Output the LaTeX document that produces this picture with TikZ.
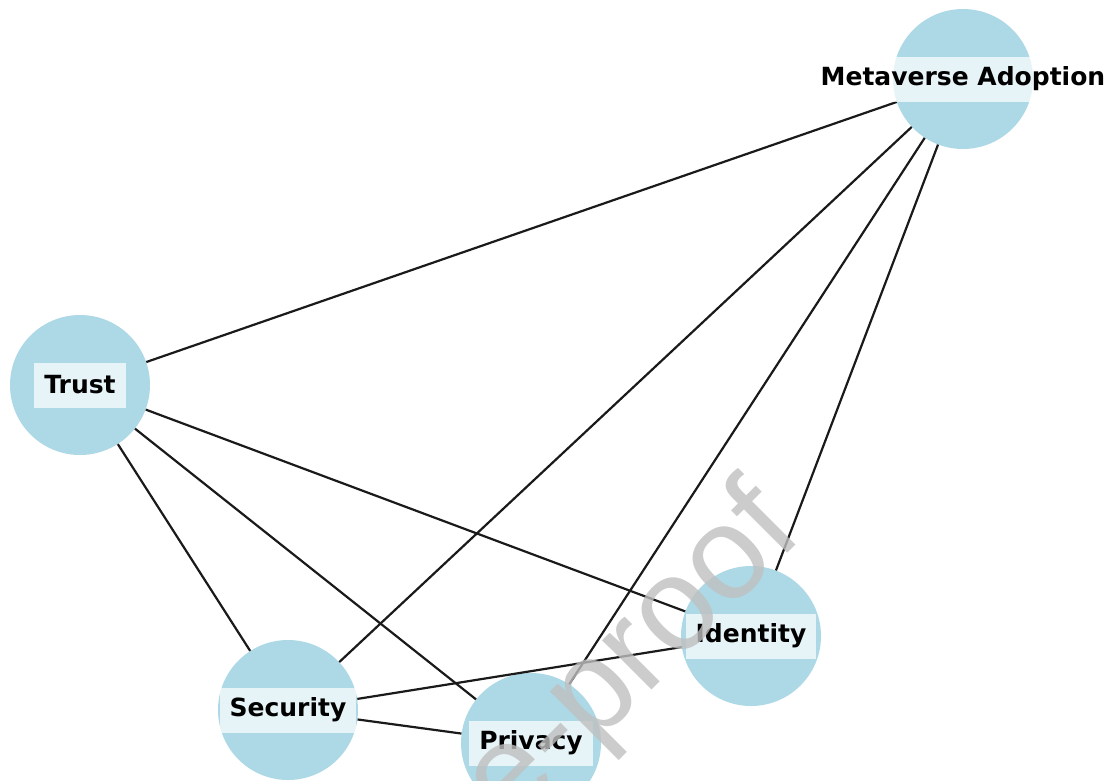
\documentclass[tikz,border=0pt]{standalone}
\usepackage{fontspec}
\setmainfont{DejaVu Sans}
\newfontfamily\wmfont{Liberation Sans}
\definecolor{nodeblue}{HTML}{ADD8E6}
\definecolor{edgecol}{HTML}{1A1A1A}
\begin{document}
\begin{tikzpicture}[x=1pt,y=-1pt,
  vert/.style={circle,fill=nodeblue,minimum size=140pt,inner sep=0pt},
  lbl/.style={fill=white,fill opacity=0.7,text opacity=1,inner xsep=10pt,inner ysep=0pt,minimum height=45pt,font=\fontsize{25}{30}\selectfont\bfseries,text=black},
  link/.style={draw=edgecol,line width=2.2pt},
  wm/.style={font=\wmfont\fontsize{132}{132}\selectfont,text=black!25,text opacity=0.8,rotate=45,inner sep=0pt,anchor=base}]
\useasboundingbox (0,0) rectangle (1112,780);
\node[vert] (meta) at (963,79) {};
\node[vert] (trust) at (80,385) {};
\node[vert] (ident) at (751,636) {};
\node[vert] (sec) at (288,710) {};
\node[vert] (priv) at (531,743) {};
\draw[link] (meta) -- (trust);
\draw[link] (meta) -- (sec);
\draw[link] (meta) -- (priv);
\draw[link] (meta) -- (ident);
\draw[link] (trust) -- (ident);
\draw[link] (trust) -- (sec);
\draw[link] (trust) -- (priv);
\draw[link] (sec) -- (ident);
\draw[link] (sec) -- (priv);
\node[lbl] (metaL) at (meta) {Metaverse Adoption};
\node[lbl] (trustL) at (trust) {Trust};
\node[lbl] (identL) at (ident) {Identity};
\node[lbl] (secL) at (sec) {Security};
\node[lbl] (privL) at (priv) {Privacy};
\begin{scope}
\clip (0,0) rectangle (1112,780);
\node[wm] (mark) at (658,683) {e-proof};
\end{scope}
\end{tikzpicture}
\end{document}
